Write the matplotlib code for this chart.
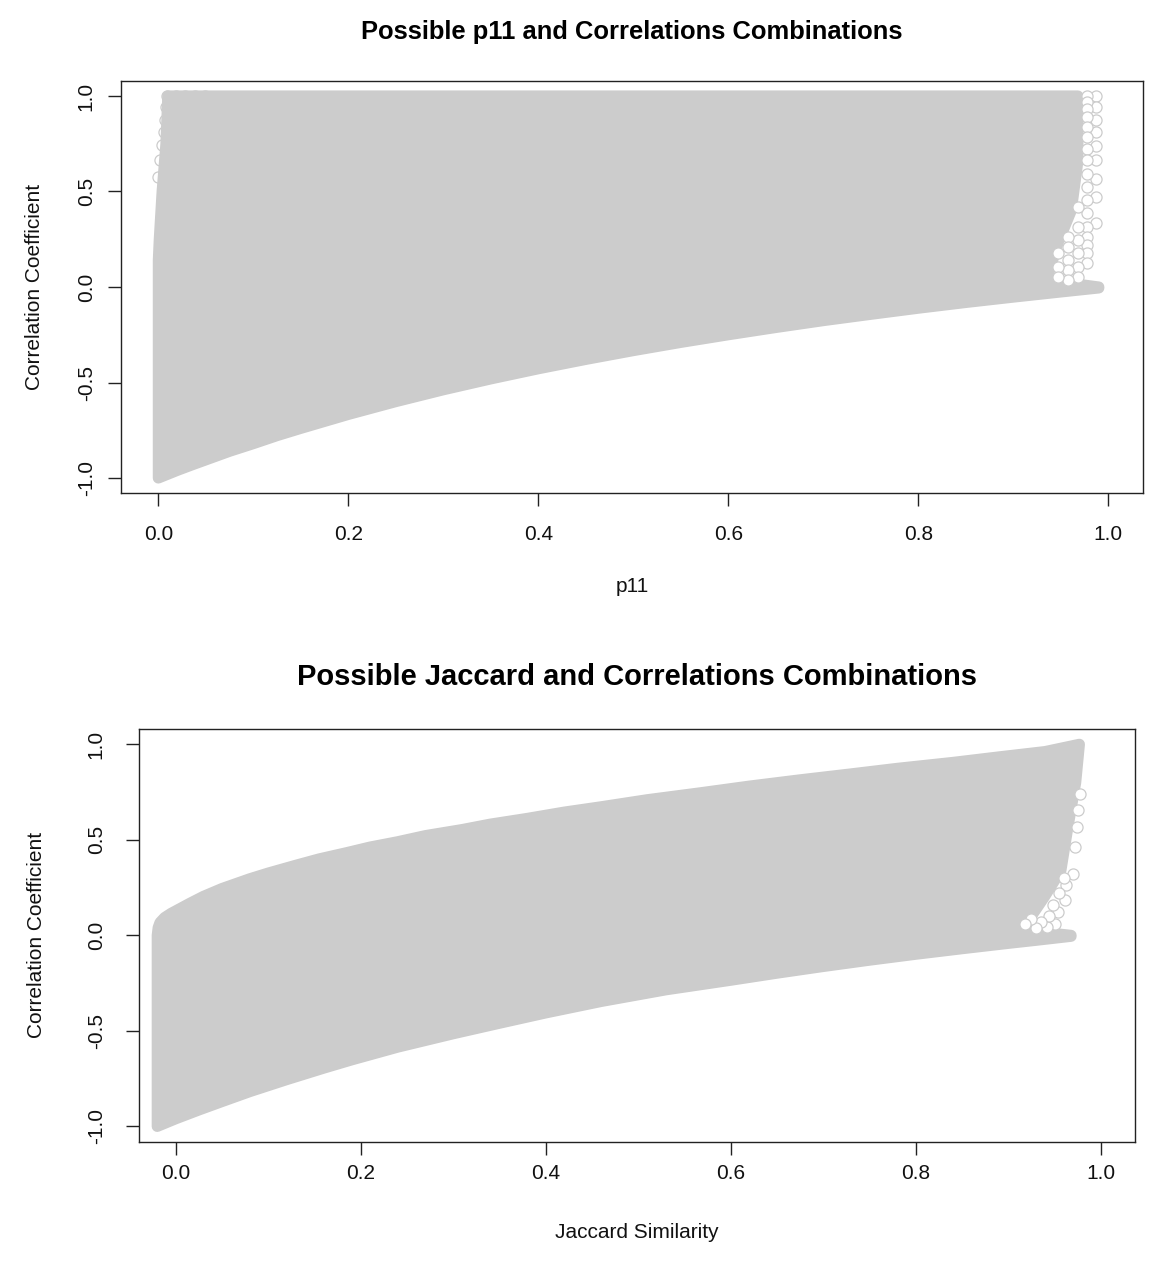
import matplotlib
matplotlib.use("Agg")
import matplotlib.pyplot as plt
from matplotlib.patches import Polygon
import numpy as np

plt.rcParams['font.family'] = ['Liberation Sans', 'DejaVu Sans']

GRAY = '#CCCCCC'

# ---------------- Panel 1: p11 vs correlation (cloud outline) --------------
p11_low_x = [0.0, 0.01, 0.02, 0.035, 0.05, 0.075, 0.1, 0.125, 0.15, 0.2, 0.25, 0.3, 0.35, 0.4, 0.45,
             0.5, 0.55, 0.6, 0.65, 0.7, 0.75, 0.8, 0.85, 0.9, 0.95, 0.99]
p11_low_y = [-1.0, -0.98, -0.96, -0.932, -0.905, -0.86, -0.82, -0.778, -0.74, -0.667, -0.60, -0.538, -0.481,
             -0.428, -0.379, -0.333, -0.29, -0.25, -0.212, -0.176, -0.143, -0.111, -0.081, -0.053, -0.026, -0.005]
p11_right_x = [0.99, 0.935, 0.947, 0.961, 0.968, 0.968]
p11_right_y = [0.0, 0.036, 0.23, 0.40, 0.66, 1.0]
p11_top_x = [0.968, 0.01]
p11_top_y = [1.0, 1.0]
p11_left_x = [0.01, 0.008, 0.004, 0.001, 0.0, 0.0]
p11_left_y = [1.0, 0.75, 0.5, 0.25, 0.14, -1.0]

# isolated circles at the ragged edges
p11_ring_cols = [0.987, 0.978, 0.968, 0.958, 0.947]
p11_ring_corr = [
    [1.0, 0.943, 0.873, 0.812, 0.737, 0.664, 0.568, 0.472, 0.333],
    [1.0, 0.969, 0.934, 0.890, 0.838, 0.786, 0.725, 0.664, 0.594, 0.524, 0.455, 0.385, 0.315, 0.263, 0.220, 0.176, 0.124],
    [0.420, 0.315, 0.246, 0.176, 0.106, 0.054],
    [0.263, 0.211, 0.141, 0.089, 0.037],
    [0.176, 0.106, 0.054],
]
p11_left_ring_x = [0.009, 0.019, 0.028, 0.039, 0.049, 0.008, 0.007, 0.006, 0.004, 0.002, 0.0]
p11_left_ring_y = [1.0, 1.0, 1.0, 1.0, 1.0, 0.943, 0.873, 0.812, 0.742, 0.664, 0.577]

# ---------------- Panel 2: Jaccard vs correlation --------------
jac_low_x = [-0.02, -0.01, 0.0, 0.025, 0.05, 0.08, 0.12, 0.16, 0.19, 0.24, 0.3, 0.35, 0.4, 0.46, 0.53,
             0.6, 0.65, 0.7, 0.75, 0.8, 0.85, 0.9, 0.93, 0.968]
jac_low_y = [-1.0, -0.98, -0.96, -0.914, -0.87, -0.818, -0.755, -0.695, -0.652, -0.585, -0.515, -0.46, -0.406,
             -0.346, -0.285, -0.235, -0.198, -0.163, -0.13, -0.099, -0.07, -0.042, -0.026, -0.005]
jac_right_x = [0.968, 0.93, 0.918, 0.939, 0.957, 0.964, 0.973, 0.977]
jac_right_y = [0.0, 0.02, 0.05, 0.2, 0.34, 0.55, 0.8, 1.0]
jac_up_x = [0.977, 0.94, 0.89, 0.84, 0.78, 0.73, 0.675, 0.62, 0.567, 0.51, 0.46, 0.42, 0.38, 0.34, 0.31,
            0.27, 0.24, 0.21, 0.185, 0.155, 0.13, 0.1, 0.08, 0.05, 0.03, 0.015, 0.005, -0.005, -0.012,
            -0.017, -0.019, -0.02]
jac_up_y = [1.0, 0.962, 0.934, 0.905, 0.874, 0.845, 0.814, 0.781, 0.746, 0.71, 0.673, 0.645, 0.612, 0.582,
            0.554, 0.522, 0.49, 0.462, 0.433, 0.4, 0.367, 0.326, 0.296, 0.245, 0.204, 0.167, 0.141, 0.115,
            0.093, 0.067, 0.04, 0.0]
jac_left_x = [-0.02, -0.02]
jac_left_y = [0.0, -1.0]

jac_ring_x = [0.978, 0.976, 0.974, 0.972, 0.970, 0.963, 0.961, 0.954, 0.951, 0.942, 0.960, 0.955, 0.948,
              0.944, 0.936, 0.930, 0.925, 0.918]
jac_ring_y = [0.742, 0.654, 0.567, 0.462, 0.323, 0.262, 0.183, 0.122, 0.061, 0.043, 0.30, 0.22, 0.16,
              0.10, 0.07, 0.04, 0.085, 0.06]

x_ticks = [0.0, 0.2, 0.4, 0.6, 0.8, 1.0]
y_ticks = [-1.0, -0.5, 0.0, 0.5, 1.0]

W, H = 1168, 1274
fig = plt.figure(figsize=(W / 100, H / 100), dpi=100)


def px_axes(l, t, r, b):
    return fig.add_axes([l / W, 1 - b / H, (r - l) / W, (b - t) / H])


ax1 = px_axes(120.7, 80.7, 1143, 493.3)
ax2 = px_axes(139, 729, 1135, 1141.7)

MS = 8.0


def cloud(ax, xs, ys):
    pts = np.column_stack([np.concatenate(xs), np.concatenate(ys)])
    poly = Polygon(pts, closed=True, facecolor=GRAY, edgecolor=GRAY,
                   linewidth=MS, joinstyle='round', zorder=2)
    ax.add_patch(poly)


cloud(ax1, [p11_low_x, p11_right_x, p11_top_x, p11_left_x],
      [p11_low_y, p11_right_y, p11_top_y, p11_left_y])
for cx, ys in zip(p11_ring_cols, p11_ring_corr):
    ax1.plot([cx] * len(ys), ys, 'o', mfc='white', mec=GRAY, ms=MS, mew=0.9, zorder=3)
ax1.plot(p11_left_ring_x, p11_left_ring_y, 'o', mfc='none', mec=GRAY, ms=MS, mew=0.9, zorder=3)

cloud(ax2, [jac_low_x, jac_right_x, jac_up_x, jac_left_x],
      [jac_low_y, jac_right_y, jac_up_y, jac_left_y])
ax2.plot(jac_ring_x, jac_ring_y, 'o', mfc='white', mec=GRAY, ms=MS, mew=0.9, zorder=3)

for ax, xl, xpad, ypad in [(ax1, (-0.0396, 1.0365), 13, 8.5), (ax2, (-0.0397, 1.0371), 6.5, 14.5)]:
    ax.set_xlim(*xl)
    ax.set_ylim(-1.08, 1.08)
    ax.set_xticks(x_ticks)
    ax.set_yticks(y_ticks)
    ax.set_xticklabels([f"{v:.1f}" for v in x_ticks])
    ax.set_yticklabels([f"{v:.1f}" for v in y_ticks], rotation=90, va='center')
    ax.tick_params(axis='both', direction='out', length=9.5, width=1.0, color='#222222',
                   labelsize=15, labelcolor='#111111')
    ax.tick_params(axis='x', pad=xpad)
    ax.tick_params(axis='y', pad=ypad)
    for s in ax.spines.values():
        s.set_linewidth(1.0)
        s.set_color('#222222')

ax1.set_xlabel('p11', fontsize=15, color='#111111', va='center')
ax1.xaxis.set_label_coords(0.5, (493.3 - 587) / 412.6)
ax1.set_ylabel('Correlation Coefficient', fontsize=15, color='#111111', va='center')
ax1.yaxis.set_label_coords((35 - 120.7) / 1022.3, 0.5)

ax2.set_xlabel('Jaccard Similarity', fontsize=15, color='#111111', va='center')
ax2.xaxis.set_label_coords(0.5, (1141.7 - 1233) / 412.7)
ax2.set_ylabel('Correlation Coefficient', fontsize=15, color='#111111', va='center')
ax2.yaxis.set_label_coords((37 - 139) / 996, 0.5)

fig.text(632 / W, 1 - 39 / H, 'Possible p11 and Correlations Combinations',
         ha='center', va='baseline', fontsize=18.4, fontweight='bold')
fig.text(637 / W, 1 - 685 / H, 'Possible Jaccard and Correlations Combinations',
         ha='center', va='baseline', fontsize=21, fontweight='bold')

fig.savefig('out.png', dpi=100, facecolor='white')
